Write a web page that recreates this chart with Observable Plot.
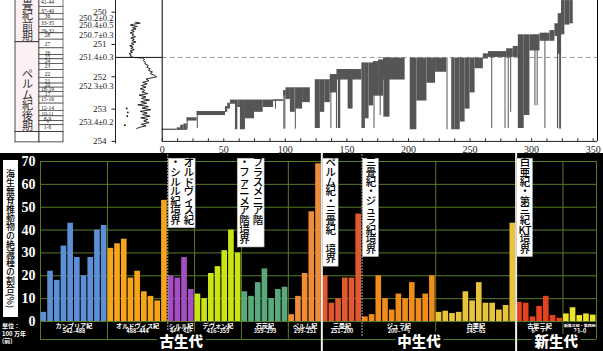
<!DOCTYPE html>
<html><head><meta charset="utf-8">
<script src="https://cdn.jsdelivr.net/npm/d3@7"></script>
<script src="https://cdn.jsdelivr.net/npm/@observablehq/plot@0.6"></script>
<style>
body{margin:0;background:#fff;}
#wrap{position:relative;width:603px;height:351px;overflow:hidden;background:#fff;}
#wrap svg{position:absolute;left:0;}
.abs{position:absolute;}
#ytitle{left:3px;top:160px;width:15px;height:157px;background:#fff;color:#000;writing-mode:vertical-rl;font:500 8.9px "Noto Sans CJK JP";line-height:15px;text-align:center;overflow:hidden;}
#unit{left:2px;top:322px;color:#fff;font:700 6px "Noto Sans CJK JP";line-height:7.5px;}
</style></head><body><div id="wrap"></div>
<script>
// ================= TOP PANEL DATA =================
const ageTicks = [249.5, 250, 251, 252, 253, 254];
const datedAges = [250.2, 250.4, 250.7, 251.4, 252.3, 253.4];
const datedErrors = ["0.2", "0.5", "0.3", "0.3", "0.3", "0.2"];
const boundaryAge = 251.4;
const stageNames = ["三畳紀前期", "ペルム紀後期", ""];
const stageFrom = [249.6, 250.93, 253.71];
const stageTo = [250.93, 253.71, 254.03];
const bedLabels = ["41-44","37-40","36","33-35","29-32","28","27","26","25","24","23","22","21","20","18-19","17","15-16","12-14","10-11","8-9","7","1-6"];
const bedMidAges = [249.69,249.98,250.12,250.34,250.59,250.72,250.98,251.26,251.39,251.53,251.67,251.91,252.15,252.27,252.40,252.53,252.70,252.96,253.15,253.30,253.44,253.56];
// carbon isotope curve (age Ma, delta13C permil)
const isoAges = [250.31,250.34,250.37,250.40,250.44,250.48,250.52,250.56,250.60,250.64,250.68,250.72,250.76,250.80,250.84,250.88,250.92,250.96,251.00,251.04,251.08,251.12,251.16,251.20,251.24,251.28,251.32,251.36,251.40,251.42,251.46,251.50,251.55,251.60,251.65,251.70,251.75,251.80,251.85,251.90,251.95,252.00,252.03,252.07,252.12,252.17,252.22,252.27,252.32,252.37,252.42,252.47,252.52,252.57,252.62,252.67,252.72,252.77,252.82,252.87,252.92,252.97,253.02,253.07,253.12,253.17,253.22,253.27,253.32,253.37,253.42,253.47,253.52,253.56,253.60];
const isoValues = [-0.6,0.2,-0.9,-1.5,-0.3,-1.1,-0.5,-1.3,-0.8,-1.5,-0.9,-1.2,-0.6,-1.4,-0.8,-1.2,-0.5,-1.3,-0.9,-1.6,-1.0,-1.4,-0.8,-1.5,-1.1,-1.7,-1.3,-1.5,-1.0,0.6,0.9,0.7,1.1,1.0,1.6,1.3,1.9,1.6,2.3,1.9,2.6,3.0,2.2,1.2,1.7,0.6,1.4,0.4,1.2,0.2,1.0,0.5,1.5,0.0,1.2,0.4,1.8,0.3,1.3,-0.2,1.6,0.5,2.0,0.2,1.4,0.6,1.9,0.3,1.5,0.8,1.7,0.4,1.2,0.2,-0.4];
const isoDotAges = [252.98, 253.10, 253.22, 253.50];
const isoDotValues = [-2.1, -1.9, -2.0, -2.4];
// species range blocks: [first species, last species, last occurrence (Ma), first occurrence (Ma)]
const rangeBlocks = [
 [0,12.2,253.62,253.66],[12.2,15,253.58,253.66],[15,17.6,253.50,253.66],[17.6,20.3,253.46,253.66],
 [20.3,28.4,253.27,253.37],[28.4,51.4,253.075,253.20],[51.4,53.2,252.92,253.10],[53.2,55.4,252.82,253.00],
 [55.4,59.5,252.72,252.85],[59.5,61.4,252.72,253.64],[61.4,63.5,252.72,252.95],[63.5,67.6,252.72,253.64],
 [67.6,75,252.72,253.30],[75,82,252.72,253.10],[82,90.5,252.72,252.95],[90.5,98.6,252.71,252.76],
 [98.6,100.5,252.43,252.60],[100.5,104.1,252.34,252.70],[104.1,108,252.34,253.10],[108.5,114,252.34,253.00],
 [114,120.3,252.34,252.80],[124.3,128.4,252.09,253.60],[128.4,132,252.09,253.10],[132,136.5,252.09,252.80],
 [136.5,141.9,251.93,252.50],[141.9,162.2,251.775,252.10],[143,145,251.775,253.60],[151,155,251.775,253.00],
 [162.2,165,251.57,253.60],[165,168,251.57,253.30],[168,171.6,251.57,252.90],[171.6,175.7,251.53,252.60],
 [175.7,179.7,251.48,252.60],[179.7,197.3,251.42,252.10],[180,185,251.42,253.25],[201.4,206.8,251.42,253.64],
 [206.8,215,251.42,252.75],[215,222,251.42,252.20],[222,231.1,251.42,251.86],[235.1,237.8,251.42,253.64],
 [237.8,242,251.42,253.64],[242,246,251.42,253.40],[246,250,251.42,253.00],[250,254.1,251.42,252.50],
 [254.1,260.8,251.42,251.75],[260.8,264.9,251.29,251.45],[264.9,279.7,251.22,251.40],[279.7,285.1,251.135,251.40],
 [285.1,289.2,251.06,251.40],[289.2,294,250.70,253.60],[294,298.6,250.70,253.20],[298.6,306.8,250.70,251.20],
 [306.8,314.9,250.65,250.90],[314.9,318.9,250.57,250.90],[318.9,321.6,250.36,250.75],[321.6,324.3,250.05,251.30],
 [324.3,327,249.64,250.70],[327,331,249.64,250.40],[331,333.8,249.64,250.36]
];
// single long-ranging species: [species, last occurrence, first occurrence]
const rangeLines = [
 [20.3,253.27,253.64],[28.5,253.07,253.60],[92,252.71,253.00],[98.8,252.43,253.62],[99.6,252.43,253.62],
 [108.1,252.34,253.62],[137,252.00,253.60],[141.5,251.93,253.60],[172,251.53,253.60],[177,251.48,253.20],
 [231.3,251.42,253.64],[267.6,251.22,253.60],[278.4,251.22,253.60],[281,251.135,253.60],[283,251.135,253.10],
 [302.7,250.70,252.90],[304.5,250.70,252.90],[310.8,250.65,253.60],[321,250.36,253.60],[322.5,250.05,253.62],[323.5,250.05,253.62]
];
const speciesTicks = [0, 50, 100, 150, 200, 250, 300, 350];

// ================= BOTTOM PANEL DATA =================
const periodNames = ["カンブリア紀","オルドヴィス紀","シルル紀","デヴォン紀","石炭紀","ペルム紀","三畳紀","ジュラ紀","白亜紀","古第三紀","新第三紀・第四紀"];
const periodAges = ["542–488","488–444","444–416","416–359","359–299","299–251","251–200","200–145","145–65","65–23","23–0"];
const cambrian = [4, 22, 18, 33, 43, 28, 20, 28, 40, 42];
const ordovician = [32, 34, 36, 19, 22, 13, 11, 9, 53];
const silurian = [20, 19, 28, 14];
const devonian = [12, 10, 21, 24, 31, 40, 30];
const carboniferous = [13, 11, 17, 23, 10, 14, 15];
const permian = [3, 11, 21, 48, 69];
const triassic = [20, 8, 10, 19, 19, 47];
const jurassic = [2, 3, 20, 10, 5, 12, 10, 17, 10, 12, 20];
const cretaceous = [4, 4.5, 3.5, 4, 13, 9, 17, 8, 8, 5, 7, 43];
const paleogene = [8.4, 8, 2, 6.6, 11, 2.6, 1.4];
const neogene = [3.3, 6, 2.6, 3.3, 2.8];
const eraNames = ["古生代", "中生代", "新生代"];
const eraPeriodCount = [6, 3, 2];
const yTicks = [0, 10, 20, 30, 40, 50, 60, 70];
const boundaryNotes = [["オルドヴィス紀","・シルル紀境界"],["フラスメニア階","・ファニメア階境界"],["ペルム紀・三畳紀　境界"],["三畳紀・ジュラ紀境界"],["白亜紀・第三紀KT境界"]];
const boundaryNoteAt = [19, 29.3, 42, 48, 71];

// ================= BUILD =================
const wrap = document.getElementById("wrap");
const ageY = {domain: [250, 254], range: [11.7, 140.9], axis: null};
const serif = "Liberation Serif";
const jp = "Noto Sans CJK JP";
// one character (or one run of Latin letters) per line, for vertical Japanese text
const stack = s => (s.match(/[A-Za-z0-9]+|./gu) || []).join("\n");

// --- stratigraphic column ---
const stages = stageNames.map((s, i) => ({name: s, from: stageFrom[i], to: stageTo[i]}));
const bedRows = bedLabels.map((b, i) => ({
  label: b, mid: bedMidAges[i],
  from: i === 0 ? stageFrom[0] : (bedMidAges[i - 1] + bedMidAges[i]) / 2,
  to: i === bedLabels.length - 1 ? stageFrom[2] : (bedMidAges[i] + bedMidAges[i + 1]) / 2
}));
const strat = Plot.plot({
  width: 66, height: 153, marginLeft: 15, marginRight: 3, marginTop: 0, marginBottom: 0,
  style: {background: "transparent", overflow: "visible"},
  x: {type: "band", domain: ["stage", "bed"], range: [15, 63], padding: 0, axis: null},
  y: ageY,
  marks: [
    Plot.barY(stages, {x: () => "stage", y1: "from", y2: "to", fill: (d, i) => i < 2 ? "#fcf0f3" : "#fff", stroke: "#222", strokeWidth: 0.8}),
    Plot.barY(bedRows, {x: () => "bed", y1: "from", y2: "to", fill: "#fff", stroke: "#222", strokeWidth: 0.6}),
    Plot.barY([stages[2]], {x: () => "bed", y1: "from", y2: "to", fill: "#fff", stroke: "#222", strokeWidth: 0.8}),
    Plot.text(bedRows, {x: () => "bed", y: "mid", text: "label", fontSize: 5.5, fontFamily: serif, fill: "#222", dx: -4}),
    Plot.text(stages.slice(0, 2), {x: () => "stage", y: "to", text: d => stack(d.name), lineAnchor: "bottom", lineHeight: 0.95, dy: -2, fontSize: 11, fontFamily: jp, fill: "#333"})
  ]
});

// --- isotope panel & age axis ---
const iso = isoAges.map((a, i) => ({age: a, v: isoValues[i]}));
const isoDots = isoDotAges.map((a, i) => ({age: a, v: isoDotValues[i]}));
const dated = datedAges.map((a, i) => ({age: a, label: `${a}±${datedErrors[i]}`}));
const isoPlot = Plot.plot({
  width: 163, height: 153, marginLeft: 115, marginRight: 1, marginTop: 0, marginBottom: 0,
  style: {background: "transparent", overflow: "visible"},
  x: {domain: [-4, 4], axis: null},
  y: ageY,
  marks: [
    Plot.ruleX([-4], {y1: 249.6, y2: 254.08, stroke: "#222"}),
    Plot.ruleY([boundaryAge], {stroke: "#111", strokeWidth: 1}),
    Plot.ruleY(ageTicks, {y: d => d, x1: -4.6, x2: -4, stroke: "#222"}),
    Plot.text(ageTicks, {y: d => d, text: d => String(d), frameAnchor: "left", dx: -9, textAnchor: "end", fontSize: 9, fontFamily: serif, fill: "#222"}),
    Plot.text(dated, {y: "age", text: "label", frameAnchor: "left", dx: -2, textAnchor: "end", fontSize: 8.5, fontFamily: serif, fill: "#222"}),
    Plot.line(iso, {x: "v", y: "age", stroke: "#111", strokeWidth: 0.9}),
    Plot.dot(isoDots, {x: "v", y: "age", r: 0.9, fill: "#111"})
  ]
});

// --- species range chart ---
const blocks = rangeBlocks.map(([a, b, t, f]) => ({x1: a, x2: b, top: t, bottom: f}));
const lines = rangeLines.map(([x, t, f]) => ({x, top: t, bottom: f}));
const rangePlot = Plot.plot({
  width: 603, height: 153, marginLeft: 161.7, marginRight: 6, marginTop: 0, marginBottom: 12,
  style: {background: "transparent", overflow: "visible"},
  x: {domain: [0, 353.5], axis: null},
  y: ageY,
  marks: [
    Plot.ruleY([boundaryAge], {stroke: "#999", strokeDasharray: "5,3"}),
    Plot.rect(blocks, {x1: "x1", x2: "x2", y1: "top", y2: "bottom", fill: "#555"}),
    Plot.ruleX(lines, {x: "x", y1: "top", y2: "bottom", stroke: "#555", strokeWidth: 1}),
    Plot.ruleX([0, 353.5], {y1: 249.6, y2: 254}),
    Plot.ruleY([254], {stroke: "#222"}),
    Plot.ruleX(d3.range(0, 351, 12.5), {y1: 254, y2: 253.92, stroke: "#222"}),
    Plot.text(speciesTicks, {x: d => d, y: 254, dy: 8, text: d => String(d), fontSize: 10, fontFamily: serif, fill: "#222"})
  ]
});

// --- bottom chart ---
const seriesList = [cambrian, ordovician, silurian, devonian, carboniferous, permian, triassic, jurassic, cretaceous, paleogene, neogene];
const bars = [];
const periodStart = [];
let k = 0;
seriesList.forEach((s, p) => { periodStart.push(k); s.forEach(v => { bars.push({i: k, value: v, period: periodNames[p]}); k++; }); });
const nBars = k;
const barPx = (603 - 40 - 7) / nBars;
const periodEnd = periodStart.map((s, p) => s + seriesList[p].length);
const periods = periodNames.map((n, p) => {
  const w = seriesList[p].length * barPx * 0.95;
  return {name: n, ages: periodAges[p], mid: (periodStart[p] + periodEnd[p]) / 2,
    fsName: Math.min(6.2, w / n.length), fsAge: Math.min(5.5, w / (periodAges[p].length * 0.56))};
});
let pc = 0;
const eras = eraNames.map((n, e) => { const s = periodStart[pc]; pc += eraPeriodCount[e]; return {name: n, start: s, end: periodEnd[pc - 1], mid: (s + periodEnd[pc - 1]) / 2}; });
const eraBounds = eras.slice(1).map(e => e.start);
const dottedBounds = [periodStart[2], periodStart[7]];
const greenBounds = [0, ...periodStart.slice(1), nBars].filter(b => !eraBounds.includes(b) && !dottedBounds.includes(b));

const pitch = 9.6;               // px per character in the boxes
const pitchU = pitch / (160 / 70); // same in % units
const topV = 71.2;
const notes = boundaryNotes.map((cols, i) => {
  const n = d3.max(cols, c => (c.match(/[A-Za-z0-9]+|./gu) || []).length);
  const cw = cols.length === 1 ? 2.35 : 2.0;
  const x1 = boundaryNoteAt[i] + 0.15, x2 = x1 + cols.length * cw;
  return {x1, x2, cw, y1: topV, y2: topV - n * pitchU - 1.0, cols};
});
const noteTexts = notes.flatMap(nt => nt.cols.map((c, j) => ({x: nt.x2 - nt.cw * (j + 0.5), y: nt.y1 - 0.35, text: stack(c)})));

const periodLabelMarks = periods.flatMap(p => [
  Plot.text([p], {x: "mid", y: 0, dy: 4.2, text: "name", fill: "#fff", fontSize: p.fsName, fontWeight: "bold", fontFamily: jp}),
  Plot.text([p], {x: "mid", y: 0, dy: 9.5, text: "ages", fill: "#fff", fontSize: p.fsAge, fontWeight: "bold", fontFamily: jp})
]);

const green = "#587c25";
const bottomPlot = Plot.plot({
  width: 603, height: 198, marginLeft: 40, marginRight: 7, marginTop: 8, marginBottom: 30,
  style: {background: "#000", overflow: "visible"},
  x: {domain: [0, nBars], axis: null},
  y: {domain: [0, 70], axis: null},
  color: {domain: periodNames, range: ["#5d8fd6","#f7a51b","#a54dc3","#cbe514","#5aa97c","#ee8c3a","#e1582e","#f08c1c","#e8c43c","#e7421f","#eee52a"]},
  marks: [
    Plot.ruleY(yTicks, {y: d => d, stroke: green, strokeWidth: 1}),
    Plot.ruleX(greenBounds, {x: d => d, y1: -7.9, y2: 70, stroke: green}),
    Plot.ruleY([-7.9], {stroke: green}),
    Plot.rect(bars, {x1: d => d.i + 0.08, x2: d => d.i + 0.92, y1: 0, y2: "value", fill: "period"}),
    Plot.ruleX(dottedBounds, {x: d => d, y1: -6.5, y2: 73.5, stroke: "#ddd", strokeDasharray: "1.5,1.5"}),
    Plot.ruleX(eraBounds, {x: d => d, y1: -13.3, y2: 73.5, stroke: "#eee", strokeWidth: 2}),
    Plot.text(yTicks, {y: d => d, text: d => String(d), frameAnchor: "left", dx: -5, textAnchor: "end", fill: "#fff", fontSize: 14, fontWeight: "bold", fontFamily: serif}),
    ...periodLabelMarks,
    Plot.text(eras, {x: "mid", y: 0, dy: 21.2, text: "name", fill: "#fff", stroke: "#000", strokeWidth: 6, paintOrder: "stroke", fontSize: 14.5, fontWeight: 900, fontFamily: jp}),
    Plot.rect(notes, {x1: "x1", x2: "x2", y1: "y1", y2: "y2", fill: "#fff", stroke: "#bbb", strokeWidth: 0.6}),
    Plot.text(noteTexts, {x: "x", y: "y", text: "text", lineAnchor: "top", lineHeight: 0.92, fill: "#000", fontSize: pitch / 0.92, fontWeight: 500, fontFamily: jp})
  ]
});

[strat, isoPlot, rangePlot].forEach(s => { s.style.top = "0px"; wrap.appendChild(s); });
bottomPlot.style.top = "153px";
wrap.appendChild(bottomPlot);

const yt = document.createElement("div");
yt.id = "ytitle"; yt.className = "abs"; yt.textContent = "海生無脊椎動物の絶滅種の割合(%)";
wrap.appendChild(yt);
const unit = document.createElement("div");
unit.id = "unit"; unit.className = "abs"; unit.innerHTML = "単位：<br>100 万年<br>(前)";
wrap.appendChild(unit);
</script></body></html>
